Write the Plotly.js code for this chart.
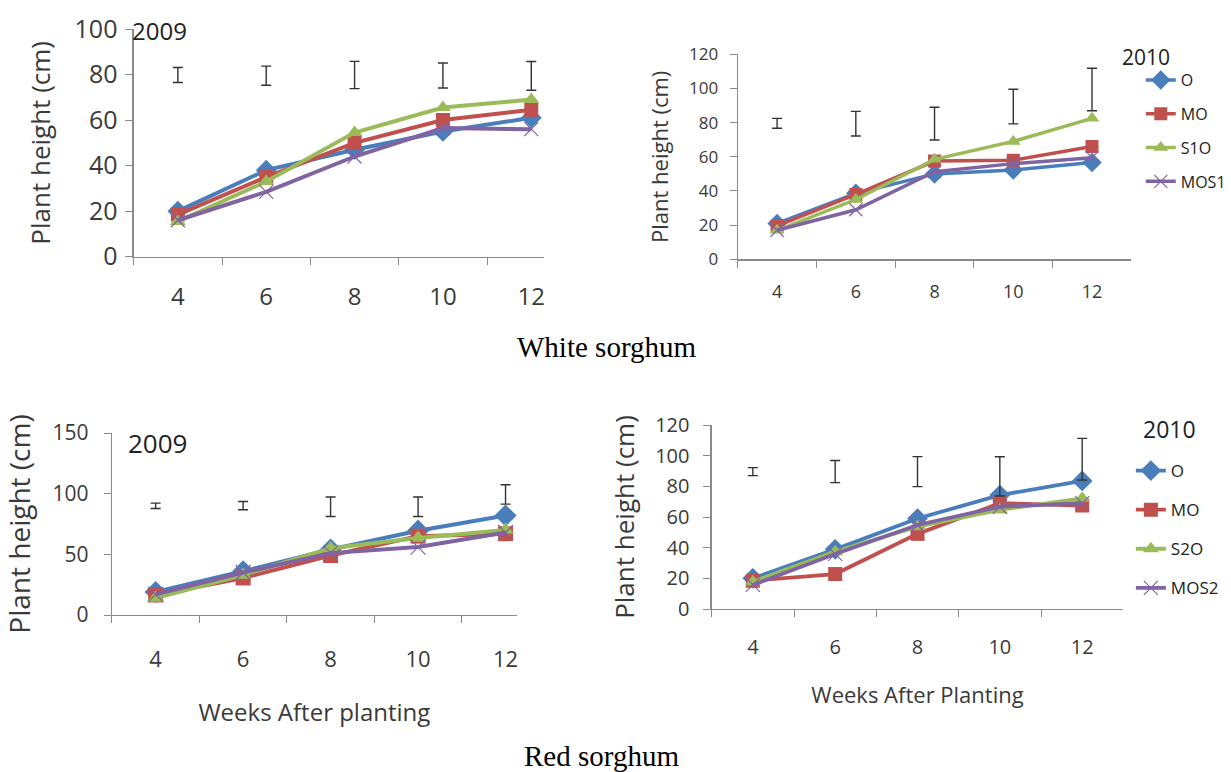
<!DOCTYPE html>
<html>
<head>
<meta charset="utf-8">
<script src="https://cdn.plot.ly/plotly-3.0.1.min.js"></script>
<style>html,body{margin:0;padding:0;background:#fff;}#chart{width:1231px;height:772px;}</style>
</head>
<body>
<div id="chart"></div>
<script>
// ---------- data ----------
const weeks = ['4', '6', '8', '10', '12'];

// White sorghum 2009
const w09_O    = [20, 38, 47, 55, 61];
const w09_MO   = [18.5, 35, 50, 60, 64.5];
const w09_S1O  = [15.5, 33, 54.5, 65.5, 69];
const w09_MOS1 = [16, 28.5, 44, 56.5, 56];
const w09_lsdMid  = [79.8, 79.5, 79.8, 79.6, 79.4];
const w09_lsdHalf = [3.3, 4.2, 6, 5.5, 6.3];

// White sorghum 2010
const w10_O    = [21, 38.6, 50, 52.3, 56.6];
const w10_MO   = [19.5, 38, 57.5, 58, 66];
const w10_S1O  = [17, 35, 58.5, 69, 82.5];
const w10_MOS1 = [17, 29, 51.3, 56, 59.5];
const w10_lsdMid  = [79.6, 79.4, 79.4, 89.4, 99.4];
const w10_lsdHalf = [2.9, 7.2, 9.6, 10.1, 12.4];

// Red sorghum 2009
const r09_O    = [19, 36, 54, 69.5, 82];
const r09_MO   = [16.5, 30.5, 49, 65, 67];
const r09_S2O  = [14, 33, 55, 63.5, 70];
const r09_MOS2 = [17, 35, 51, 56, 68];
const r09_lsdMid  = [90, 90.1, 89.2, 89.2, 99.4];
const r09_lsdHalf = [2.2, 3.4, 8, 8, 8];

// Red sorghum 2010
const r10_O    = [20, 38.9, 59, 74.3, 83.5];
const r10_MO   = [18.5, 22.8, 49, 69, 67.5];
const r10_S2O  = [17.8, 37.4, 53.7, 64.6, 72.2];
const r10_MOS2 = [15.7, 35.9, 54.8, 66.7, 69];
const r10_lsdMid  = [89.6, 89.6, 89.6, 86.5, 97.7];
const r10_lsdHalf = [2.6, 7.2, 9.8, 12.8, 13.6];

const whiteNames = ['O', 'MO', 'S1O', 'MOS1'];
const redNames   = ['O', 'MO', 'S2O', 'MOS2'];

// ---------- styling ----------
const W = 1231, H = 772;
const FONT = 'Open Sans, Lato, sans-serif';
const TXT = '#3a3a3a';
const colors = ['#4A7EBB', '#C0504D', '#9BBB59', '#8064A2'];
const symbols = ['diamond', 'square', 'triangle-up', 'x-thin'];

function xd(a, b) { return [a / W, b / W]; }
function yd(top, bottom) { return [1 - bottom / H, 1 - top / H]; }

const traces = [];
function addPanel(series, names, lsdMid, lsdHalf, xa, ya, opts) {
  series.forEach((vals, i) => {
    traces.push({
      type: 'scatter', mode: 'lines+markers',
      x: weeks, y: vals, name: names[i],
      xaxis: xa, yaxis: ya,
      line: { color: colors[i], width: opts.lw },
      marker: {
        symbol: symbols[i], color: colors[i], size: i === 0 ? opts.ms + 2 : opts.ms,
        line: { color: colors[i], width: i === 3 ? 1.2 : 0 }
      },
      showlegend: !!opts.legend,
      legend: opts.legend || 'legend',
      legendgroup: (opts.legend || 'x') + names[i]
    });
  });
  traces.push({
    type: 'scatter', mode: 'markers', x: weeks, y: lsdMid,
    xaxis: xa, yaxis: ya, showlegend: false, hoverinfo: 'skip',
    marker: { color: 'rgba(0,0,0,0)', size: 1 },
    error_y: { type: 'data', array: lsdHalf, visible: true, color: '#333', thickness: 1.4, width: 5 }
  });
}

addPanel([w09_O, w09_MO, w09_S1O, w09_MOS1], whiteNames, w09_lsdMid, w09_lsdHalf, 'x', 'y', { lw: 4, ms: 14 });
addPanel([w10_O, w10_MO, w10_S1O, w10_MOS1], whiteNames, w10_lsdMid, w10_lsdHalf, 'x2', 'y2', { lw: 3.5, ms: 13, legend: 'legend' });
addPanel([r09_O, r09_MO, r09_S2O, r09_MOS2], redNames, r09_lsdMid, r09_lsdHalf, 'x3', 'y3', { lw: 4, ms: 15 });
addPanel([r10_O, r10_MO, r10_S2O, r10_MOS2], redNames, r10_lsdMid, r10_lsdHalf, 'x4', 'y4', { lw: 3.8, ms: 14, legend: 'legend2' });

function xaxis(domain, range, anchor, tickSize, standoff, title, titleSize, titleStandoff) {
  const ax = {
    type: 'category', domain: domain, range: range, anchor: anchor,
    showline: true, linecolor: '#8a8a8a', linewidth: 1.2,
    ticks: 'outside', tickson: 'boundaries', ticklen: 7, tickcolor: '#8a8a8a',
    ticklabelstandoff: standoff,
    showgrid: false, zeroline: false, fixedrange: true,
    tickfont: { family: FONT, size: tickSize, color: TXT }
  };
  if (title) ax.title = { text: title, font: { family: FONT, size: titleSize, color: TXT }, standoff: titleStandoff };
  return ax;
}
function yaxis(domain, range, dtick, anchor, tickSize, standoff, titleSize, titleStandoff) {
  return {
    domain: domain, range: range, dtick: dtick, anchor: anchor,
    showline: true, linecolor: '#8a8a8a', linewidth: 1.2,
    ticks: 'outside', ticklen: 7, tickcolor: '#8a8a8a',
    ticklabelstandoff: standoff,
    showgrid: false, zeroline: false, fixedrange: true,
    tickfont: { family: FONT, size: tickSize, color: TXT },
    title: { text: 'Plant height (cm)', font: { family: FONT, size: titleSize, color: TXT }, standoff: titleStandoff }
  };
}

const layout = {
  width: W, height: H,
  margin: { l: 0, r: 0, t: 0, b: 0 },
  paper_bgcolor: '#fff', plot_bgcolor: 'rgba(0,0,0,0)',
  font: { family: FONT, color: TXT },
  xaxis:  xaxis(xd(135, 549), [-0.5, 4.14], 'y', 24, 18),
  yaxis:  yaxis(yd(29, 256.7), [0, 100], 20, 'x', 25, 3, 26, 16),
  xaxis2: xaxis(xd(745, 1142.5), [-0.5, 4.5], 'y2', 18, 16),
  yaxis2: yaxis(yd(54.3, 259.3), [0, 120], 20, 'x2', 17, 8, 22, 14),
  xaxis3: xaxis(xd(113, 522), [-0.5, 4.13], 'y3', 22, 24, 'Weeks After planting', 24, 32),
  yaxis3: yaxis(yd(433, 615), [0, 150], 50, 'x3', 21, 11, 28, 13),
  xaxis4: xaxis(xd(718.7, 1134.4), [-0.5, 4.5], 'y4', 20, 20, 'Weeks After Planting', 22, 28),
  yaxis4: yaxis(yd(425, 609), [0, 120], 20, 'x4', 20, 10, 26, 13),
  legend: {
    x: 1152 / W, y: 1 - 63 / H, xanchor: 'left', yanchor: 'top',
    bgcolor: 'rgba(0,0,0,0)', font: { family: FONT, size: 16, color: '#222' },
    traceorder: 'grouped', tracegroupgap: 10, itemwidth: 30
  },
  legend2: {
    x: 1142 / W, y: 1 - 453 / H, xanchor: 'left', yanchor: 'top',
    bgcolor: 'rgba(0,0,0,0)', font: { family: FONT, size: 17, color: '#222' },
    traceorder: 'grouped', tracegroupgap: 14, itemwidth: 30
  },
  annotations: [
    { text: '2009', xref: 'paper', yref: 'paper', x: 161 / W, y: 1 - 30 / H, xanchor: 'center', yanchor: 'middle', showarrow: false, font: { family: FONT, size: 24, color: '#222' } },
    { text: '2009', xref: 'paper', yref: 'paper', x: 159 / W, y: 1 - 443 / H, xanchor: 'center', yanchor: 'middle', showarrow: false, font: { family: FONT, size: 26, color: '#222' } },
    { text: '2010', xref: 'paper', yref: 'paper', x: 1157 / W, y: 1 - 57 / H, xanchor: 'center', yanchor: 'middle', showarrow: false, font: { family: FONT, size: 21, color: '#222' } },
    { text: '2010', xref: 'paper', yref: 'paper', x: 1181 / W, y: 1 - 429 / H, xanchor: 'center', yanchor: 'middle', showarrow: false, font: { family: FONT, size: 23, color: '#222' } },
    { text: 'White sorghum', xref: 'paper', yref: 'paper', x: 613 / W, y: 1 - 347 / H, xanchor: 'center', yanchor: 'middle', showarrow: false, font: { family: 'Liberation Serif, Times New Roman, serif', size: 29, color: '#000' } },
    { text: 'Red sorghum', xref: 'paper', yref: 'paper', x: 607 / W, y: 1 - 756 / H, xanchor: 'center', yanchor: 'middle', showarrow: false, font: { family: 'Liberation Serif, Times New Roman, serif', size: 29, color: '#000' } }
  ]
};

Plotly.newPlot('chart', traces, layout, { displayModeBar: false, staticPlot: true });
</script>
</body>
</html>
